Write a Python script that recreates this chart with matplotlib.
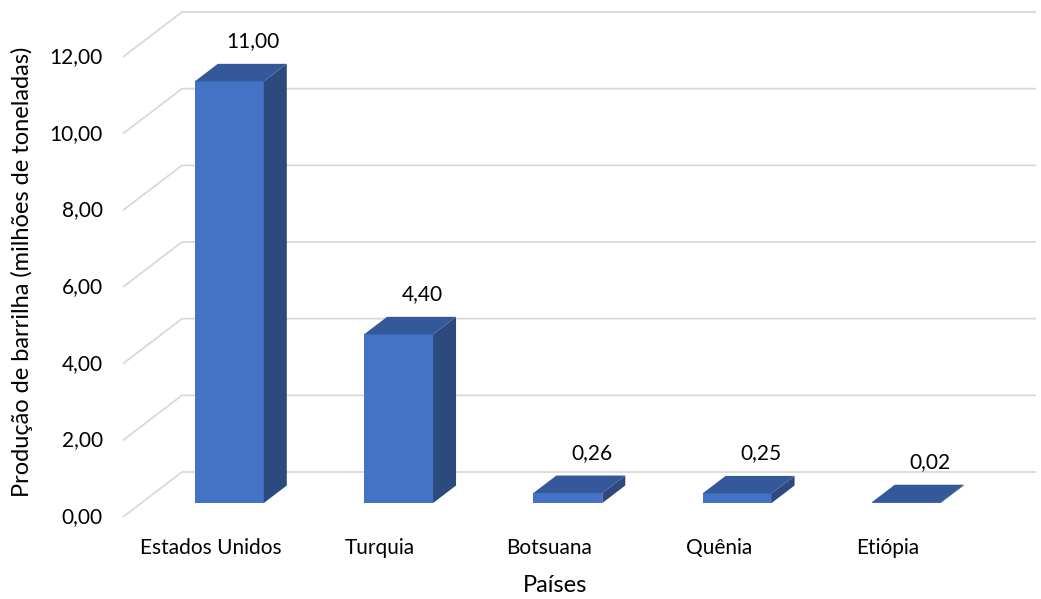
import numpy as np
import matplotlib.pyplot as plt
from matplotlib.patches import Polygon

# Data
paises = ['Estados Unidos', 'Turquia', 'Botsuana', 'Quênia', 'Etiópia']
producao = [11.00, 4.40, 0.26, 0.25, 0.02]
y_ticks = [0, 2, 4, 6, 8, 10, 12]

plt.rcParams['font.family'] = ['Lato', 'DejaVu Sans']

W, H = 1041, 599
fig = plt.figure(figsize=(W / 100, H / 100), dpi=100)
ax = fig.add_axes([0, 0, 1, 1])

# pixel layout -> data scale
px_cat = 169.25          # px per category
px_val = 460 / 12        # px per unit of value
x0_px, y0_px = 211, 517  # front-plane position of category 0 / value 0
ax.set_xlim(-x0_px / px_cat, (W - x0_px) / px_cat)
ax.set_ylim(-(H - y0_px) / px_val, y0_px / px_val)
ax.axis('off')

DX = 59 / px_cat   # depth offset of the back wall
DY = 45 / px_val
f0, f1 = 0.31, 0.70  # bar depth (fraction)
half_w = 34.5 / px_cat

x_left = (123 - x0_px) / px_cat
x_right = (1036 - x0_px) / px_cat
grid_c = '#d9d9d9'
fs = 15

# oblique gridlines
for t in y_ticks:
    ax.plot([x_left, x_left + DX, x_right], [t, t + DY, t + DY],
            color=grid_c, lw=1.3, zorder=1, solid_capstyle='butt')
    ax.text(x_left - 20 / px_cat, t, f'{t:.2f}'.replace('.', ','),
            ha='right', va='center', fontsize=fs, color='#000000')

front_c, side_c, top_c = '#4472c4', '#2c4a7e', '#34589a'
ddx, ddy = (f1 - f0) * DX, (f1 - f0) * DY
for i, v in enumerate(producao):
    xl = i + f0 * DX - half_w
    xr = i + f0 * DX + half_w
    yb = f0 * DY
    yt = v + f0 * DY
    front = Polygon([(xl, yb), (xr, yb), (xr, yt), (xl, yt)], closed=True,
                    fc=front_c, ec='none', zorder=3)
    side = Polygon([(xr, yb), (xr + ddx, yb + ddy), (xr + ddx, yt + ddy), (xr, yt)],
                   closed=True, fc=side_c, ec='none', zorder=3)
    top = Polygon([(xl, yt), (xr, yt), (xr + ddx, yt + ddy), (xl + ddx, yt + ddy)],
                  closed=True, fc=top_c, ec='none', zorder=4)
    for p in (front, side, top):
        ax.add_patch(p)
    ax.text(i + f0 * DX + 24 / px_cat, yt + 34 / px_val, f'{v:.2f}'.replace('.', ','),
            ha='center', va='baseline', fontsize=fs, color='#000000', zorder=5)
    ax.text(i, -31 / px_val, paises[i], ha='center', va='center',
            fontsize=fs, color='#000000')

ax.text((555 - x0_px) / px_cat, -(585 - y0_px) / px_val, 'Países',
        ha='center', va='center', fontsize=17, color='#000000')
ax.text((22 - x0_px) / px_cat, (y0_px - 272) / px_val,
        'Produção de barrilha (milhões de toneladas)', rotation=90,
        ha='center', va='center', fontsize=17, color='#000000')

fig.savefig('out.png', dpi=100, facecolor='white')
